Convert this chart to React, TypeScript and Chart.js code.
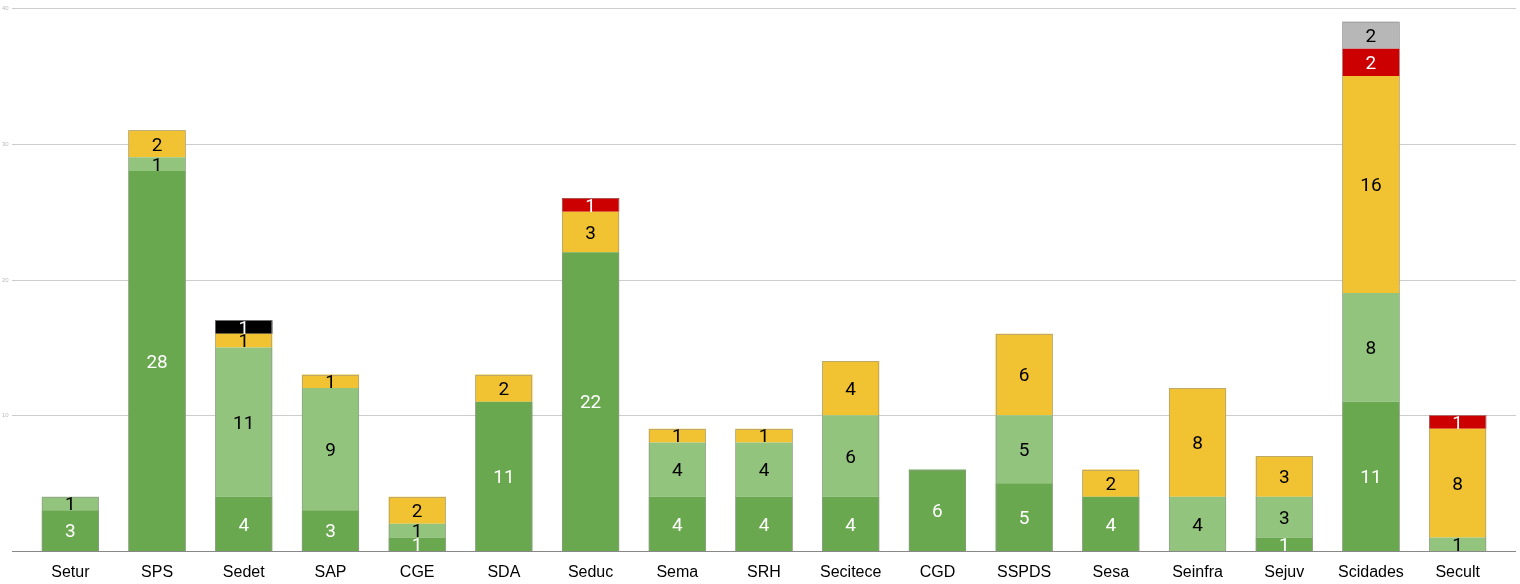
import React, { useEffect, useRef } from "react";
import { Chart, registerables } from "chart.js";
Chart.register(...registerables);

const categories = ["Setur", "SPS", "Sedet", "SAP", "CGE", "SDA", "Seduc", "Sema", "SRH", "Secitece", "CGD", "SSPDS", "Sesa", "Seinfra", "Sejuv", "Scidades", "Secult"];
const darkGreen = [3, 28, 4, 3, 1, 11, 22, 4, 4, 4, 6, 5, 4, 0, 1, 11, 0];
const lightGreen = [1, 1, 11, 9, 1, 0, 0, 4, 4, 6, 0, 5, 0, 4, 3, 8, 1];
const yellow = [0, 2, 1, 1, 2, 2, 3, 1, 1, 4, 0, 6, 2, 8, 3, 16, 8];
const red = [0, 0, 0, 0, 0, 0, 1, 0, 0, 0, 0, 0, 0, 0, 0, 2, 1];
const black = [0, 0, 1, 0, 0, 0, 0, 0, 0, 0, 0, 0, 0, 0, 0, 0, 0];
const gray = [0, 0, 0, 0, 0, 0, 0, 0, 0, 0, 0, 0, 0, 0, 0, 2, 0];
const yTicks = [10, 20, 30, 40];

const seriesColors = ["#6aa84f", "#93c47d", "#f1c232", "#cc0000", "#000000", "#b7b7b7"];
const labelColors = ["#ffffff", "#000000", "#000000", "#ffffff", "#ffffff", "#000000"];

const GRID_LEFT = 12;
const GRID_RIGHT = 1516;

const gridPlugin = {
  id: "gridPlugin",
  beforeDatasetsDraw(chart: any) {
    const { ctx } = chart;
    const y = chart.scales.y;
    ctx.save();
    ctx.strokeStyle = "#cccccc";
    ctx.lineWidth = 1;
    yTicks.forEach((t) => {
      const py = Math.round(y.getPixelForValue(t)) + 0.5;
      ctx.beginPath();
      ctx.moveTo(GRID_LEFT, py);
      ctx.lineTo(GRID_RIGHT, py);
      ctx.stroke();
      ctx.fillStyle = "#bbbbbb";
      ctx.font = "6px 'Liberation Sans', Arial, sans-serif";
      ctx.textAlign = "left";
      ctx.textBaseline = "middle";
      ctx.fillText(String(t), 2, py);
    });
    ctx.restore();
  },
  afterDatasetsDraw(chart: any) {
    const { ctx } = chart;
    const y = chart.scales.y;
    ctx.save();
    const n = categories.length;
    for (let i = 0; i < n; i++) {
      let top = Infinity, left = 0, right = 0, base = 0, found = false;
      chart.data.datasets.forEach((ds: any, di: number) => {
        const v = ds.data[i];
        if (!v) return;
        const el = chart.getDatasetMeta(di).data[i] as any;
        const p = el.getProps(["x", "y", "base", "width"], true);
        found = true;
        top = Math.min(top, p.y);
        left = p.x - p.width / 2;
        right = p.x + p.width / 2;
        base = y.getPixelForValue(0);
      });
      if (found) {
        ctx.strokeStyle = "rgba(150,150,150,0.55)";
        ctx.lineWidth = 1;
        ctx.beginPath();
        ctx.moveTo(Math.round(left) + 0.5, base);
        ctx.lineTo(Math.round(left) + 0.5, Math.round(top) + 0.5);
        ctx.lineTo(Math.round(right) - 0.5, Math.round(top) + 0.5);
        ctx.lineTo(Math.round(right) - 0.5, base);
        ctx.stroke();
      }
    }
    const by = Math.round(y.getPixelForValue(0)) + 0.5;
    ctx.strokeStyle = "#888888";
    ctx.beginPath();
    ctx.moveTo(GRID_LEFT, by);
    ctx.lineTo(GRID_RIGHT, by);
    ctx.stroke();
    ctx.font = "19px Roboto, 'Liberation Sans', sans-serif";
    ctx.textAlign = "center";
    ctx.textBaseline = "middle";
    chart.data.datasets.forEach((ds: any, di: number) => {
      const meta = chart.getDatasetMeta(di);
      meta.data.forEach((el: any, i: number) => {
        const v = ds.data[i];
        if (!v) return;
        const p = el.getProps(["x", "y", "base"], true);
        ctx.fillStyle = labelColors[di];
        ctx.fillText(String(v), p.x, (p.y + p.base) / 2 + 2);
      });
    });
    ctx.restore();
  },
};

export default function App() {
  const ref = useRef<HTMLCanvasElement>(null);
  useEffect(() => {
    if (!ref.current) return;
    const seriesData = [darkGreen, lightGreen, yellow, red, black, gray];
    const chart = new Chart(ref.current, {
      type: "bar",
      data: {
        labels: categories,
        datasets: seriesData.map((d, i) => ({
          label: "s" + i,
          data: d,
          backgroundColor: seriesColors[i],
          borderWidth: 0,
          categoryPercentage: 1,
          barPercentage: 0.66,
        })),
      },
      options: {
        animation: false,
        responsive: false,
        maintainAspectRatio: false,
        layout: { padding: { left: 27, right: 19, top: 8, bottom: 0 } },
        plugins: { legend: { display: false }, tooltip: { enabled: false } },
        scales: {
          x: {
            stacked: true,
            grid: { display: false, drawTicks: false },
            border: { display: false },
            ticks: {
              color: "#000000",
              font: { size: 16, family: "'Liberation Sans', Arial, sans-serif" },
              padding: 12,
              maxRotation: 0,
              autoSkip: false,
            },
            afterFit: (scale: any) => {
              scale.height = 33;
            },
          },
          y: {
            stacked: true,
            display: false,
            min: 0,
            max: 40,
          },
        },
      },
      plugins: [gridPlugin],
    });
    return () => chart.destroy();
  }, []);
  return (
    <div style={{ position: "fixed", left: 0, top: 0, width: 1520, height: 584, background: "#fff" }}>
      <canvas ref={ref} width={1520} height={584} style={{ width: 1520, height: 584, display: "block" }} />
    </div>
  );
}
